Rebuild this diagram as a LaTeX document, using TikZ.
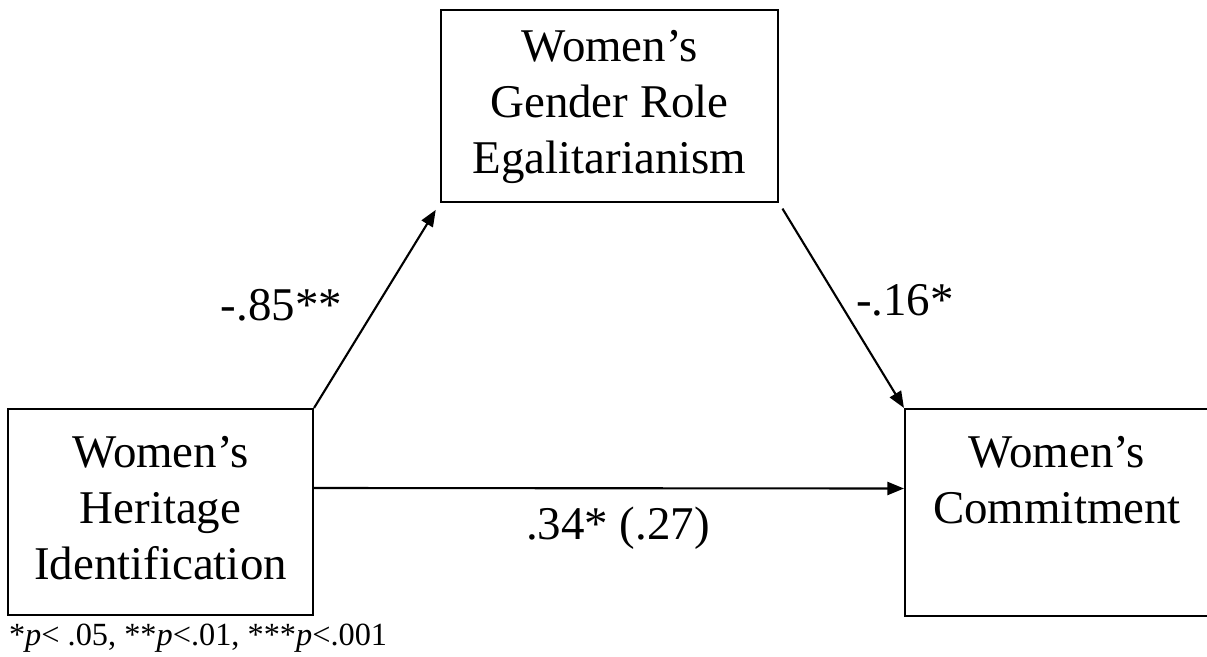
\documentclass[tikz,border=0pt]{standalone}
\usepackage{fontspec}
\setmainfont{Liberation Serif}
\usetikzlibrary{positioning,arrows.meta}

\begin{document}
\begin{tikzpicture}[>={Triangle[length=0.33cm,width=0.26cm]}, line width=1.2pt,
  box/.style={draw, inner sep=0pt},
  boxtext/.style={inner sep=0pt, align=center, font=\fontsize{26.7}{31.9}\selectfont},
  coef/.style={inner sep=0pt, anchor=base, font=\fontsize{26.7}{31.9}\selectfont}]
  \useasboundingbox (0,0) rectangle (24.14,13.12);

  % Boxes
  \node[box, minimum width=6.74cm, minimum height=3.84cm] (egal) at (12.19,11.0) {};
  \node[box, minimum width=6.10cm, minimum height=4.12cm] (herit) at (3.21,2.88) {};
  \node[box, minimum width=6.50cm, minimum height=4.14cm] (commit) at (21.35,2.87) {};

  % Box labels
  \node[boxtext, below=0.40cm of egal.north] (egaltext) {Women’s\\Gender Role\\Egalitarianism};
  \node[boxtext, below=0.54cm of herit.north] (herittext) {Women’s\\Heritage\\Identification};
  \node[boxtext, below=0.54cm of commit.north, xshift=-0.21cm] (committext) {Women’s\\Commitment};

  % Paths
  \draw[->, shorten >=0.16cm] (herit.north east) -- (egal.south west);
  \draw[->, shorten <=0.13cm] (egal.south east) -- (commit.north west);
  \draw[->] ([yshift=0.48cm]herit.east) -- ([yshift=0.48cm]commit.west);

  % Coefficients
  \node[coef] (a) at (5.63,6.72) {-.85**};
  \node[coef] (b) at (18.10,6.82) {-.16*};
  \node[coef] (c) at (12.36,2.34) {.34* (.27)};

  % Note
  \node[anchor=base west, inner sep=0pt, font=\fontsize{18.4}{22}\selectfont] (note) at (0.16,0.22)
    {*\textit{p}< .05, **\textit{p}<.01, ***\textit{p}<.001};
\end{tikzpicture}
\end{document}
